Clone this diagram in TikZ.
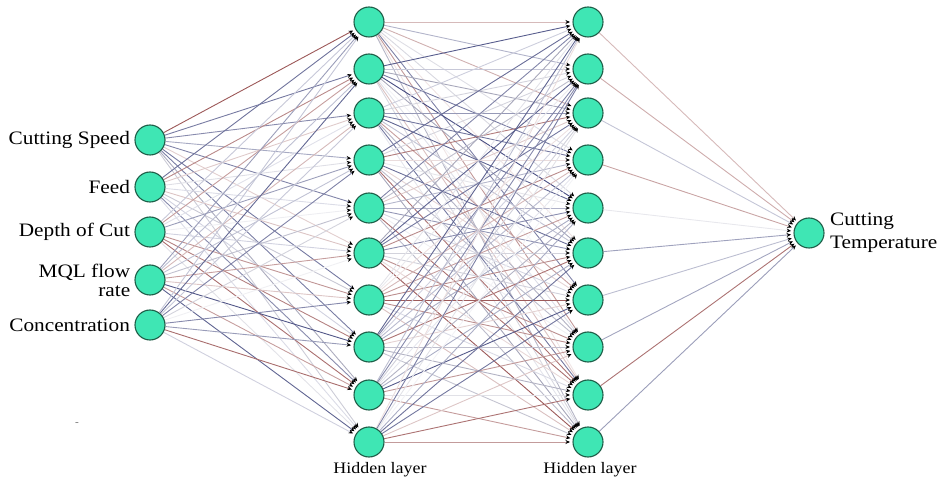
\documentclass[tikz,border=0pt]{standalone}
\usepackage{fontspec}
\setmainfont[FakeStretch=1.12]{Liberation Serif}
\usetikzlibrary{arrows.meta,backgrounds}
\definecolor{nodefill}{HTML}{3FE6B4}
\definecolor{nodeline}{HTML}{1E5E48}
\definecolor{eblue}{HTML}{2E3470}
\definecolor{ered}{HTML}{8A3A3A}
\definecolor{egrey}{HTML}{9A9AB0}
\newcommand\nnedge[2]{%
  \pgfmathsetmacro\kind{rnd}%
  \pgfmathtruncatemacro\shade{12+78*rnd}%
  \ifdim\kind pt<0.42pt \def\ec{eblue}\else\ifdim\kind pt<0.72pt \def\ec{ered}\else\def\ec{egrey}\fi\fi
  \draw[nnlink, draw=\ec!\shade!white] (#1) -- (#2);%
}
\begin{document}
\begin{tikzpicture}[x=1pt,y=-1pt,
  neuron/.style={circle,draw=nodeline,fill=nodefill,line width=1.1pt,minimum size=30pt,inner sep=0pt},
  lbl/.style={font=\fontsize{19}{19}\selectfont,text=black},
  hlbl/.style={font=\fontsize{16}{16}\selectfont,text=black},
  nnlink/.style={line width=0.9pt,-{Stealth[black,length=4.5pt,width=4pt]},shorten >=2.5pt}]
\useasboundingbox (0,0) rectangle (943,486);
% input layer
\foreach \n/\y in {1/140,2/187,3/232,4/280,5/325}{\node[neuron] (i\n) at (150,\y) {};}
% hidden layers
\foreach \n/\y in {1/22,2/69,3/113,4/160,5/208,6/253,7/300,8/347,9/395,10/442}{
  \node[neuron] (h\n) at (369,\y) {};
  \node[neuron] (g\n) at (588,\y) {};
}
\node[neuron] (o) at (809,233) {};
% labels
\node[lbl,anchor=east] (l1) at ([xshift=-1pt]i1.west) {Cutting Speed};
\node[lbl,anchor=east] (l2) at ([xshift=-1pt]i2.west) {Feed};
\node[lbl,anchor=east] (l3) at ([xshift=-1pt]i3.west) {Depth of Cut};
\node[lbl,anchor=east,align=right,inner sep=0pt] (l4) at ([xshift=-4pt]i4.west) {MQL flow\\rate};
\node[lbl,anchor=east] (l5) at ([xshift=-1pt]i5.west) {Concentration};
\node[lbl,anchor=west,align=left,font=\fontsize{19}{23}\selectfont] (lo) at ([xshift=2pt]o.east) {Cutting\\Temperature};
\node[hlbl] (hl1) at (380,470) {Hidden layer};
\node[hlbl] (hl2) at (590,470) {Hidden layer};
\node[font=\fontsize{10}{10}\selectfont,text=black!60] (dash) at (77,424) {-};
% connections
\begin{scope}[on background layer]
\pgfmathsetseed{11}
\foreach \a in {1,...,5}{\foreach \b in {1,...,10}{\nnedge{i\a}{h\b}}}
\foreach \a in {1,...,10}{\foreach \b in {1,...,10}{\nnedge{h\a}{g\b}}}
\foreach \a in {1,...,10}{\nnedge{g\a}{o}}
\end{scope}
\end{tikzpicture}
\end{document}
